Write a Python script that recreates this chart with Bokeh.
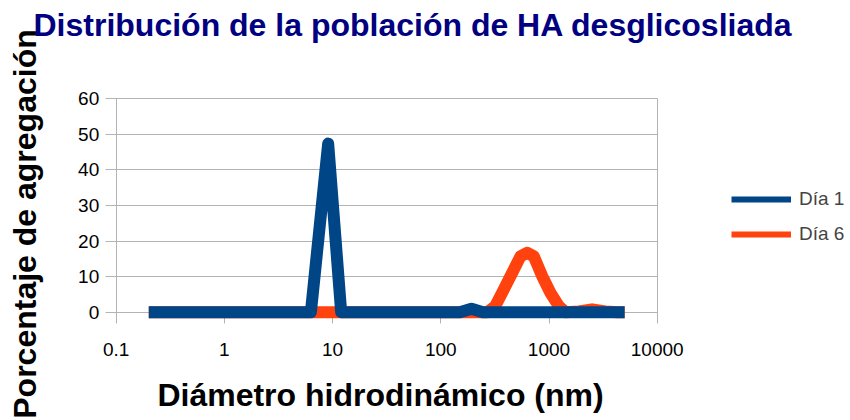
import math
from bokeh.plotting import figure
from bokeh.models import (Range1d, FixedTicker, Legend, LegendItem, Label, Grid)
from bokeh.core.properties import value
from bokeh.embed import file_html
from bokeh.resources import INLINE

# ---- data ----
title_text = "Distribución de la población de HA desglicosliada"
x_title = "Diámetro hidrodinámico (nm)"
y_title = "Porcentaje de agregación"
series_names = ["Día 1", "Día 6"]

dia1_x = [0.2, 6.3, 9.1, 12.0, 150, 192, 245, 5000]
dia1_y = [0, 0, 47.4, 0, 0, 1.0, 0, 0]

dia6_x = [0.2, 270, 318, 381, 456, 545, 629, 724, 867, 1033, 1233, 1420, 1900, 2500, 3300, 4300, 5000]
dia6_y = [0, 0, 1.7, 6.3, 11.0, 15.7, 16.7, 15.7, 10.1, 5.4, 1.7, 0, 0.2, 0.8, 0.2, 0, 0]

x_ticks = [0.1, 1, 10, 100, 1000, 10000]
x_tick_labels = ["0.1", "1", "10", "100", "1000", "10000"]
y_ticks = [0, 10, 20, 30, 40, 50, 60]
y_tick_labels = ["0", "10", "20", "30", "40", "50", "60"]

BLUE = "#004586"
ORANGE = "#ff420e"
GRID = "#b3b3b3"
FONT = "Liberation Sans"

W, H = 850, 420
PX_DECADE = 108.2            # pixels per decade on the x axis
PX_UNIT = 3.5567             # pixels per percentage unit on the y axis
X0_PX, Y60_PX = 115.7, 98.3  # where 0.1 and 60 sit inside the canvas
TICK = 11                    # tick length in px

lx0 = math.log10(x_ticks[0]) - X0_PX / PX_DECADE
x_range = Range1d(10 ** lx0, 10 ** (lx0 + W / PX_DECADE))
ytop = y_ticks[-1] + Y60_PX / PX_UNIT
y_range = Range1d(ytop - H / PX_UNIT, ytop)

p = figure(width=W, height=H, x_axis_type="log", title=None,
           x_range=x_range, y_range=y_range,
           x_axis_location=None, y_axis_location=None,
           output_backend="svg", toolbar_location=None, min_border=0)
p.outline_line_color = None
p.background_fill_color = "white"
p.border_fill_color = "white"
# drop default grids; only the chart's own grid lines are drawn
p.center = [r for r in p.center if not isinstance(r, Grid)]

x_tick_end = x_ticks[0] * 10 ** (-TICK / PX_DECADE)   # left end of y ticks
y_tick_end = y_ticks[0] - TICK / PX_UNIT              # bottom end of x ticks

# horizontal grid lines (with the y ticks) and vertical axis lines / x ticks
p.add_layout(Grid(dimension=1, ticker=FixedTicker(ticks=y_ticks),
                  cross_bounds=(x_tick_end, x_ticks[-1]), grid_line_color=GRID))
p.add_layout(Grid(dimension=0, ticker=FixedTicker(ticks=[x_ticks[0], x_ticks[-1]]),
                  cross_bounds=(y_tick_end, y_ticks[-1]), grid_line_color=GRID))
p.add_layout(Grid(dimension=0, ticker=FixedTicker(ticks=x_ticks[1:-1]),
                  cross_bounds=(y_tick_end, y_ticks[0]), grid_line_color=GRID))

# tick labels
p.text(x=x_ticks, y=[y_ticks[0]] * len(x_ticks), text=x_tick_labels,
       y_offset=37, text_align="center", text_baseline="middle",
       text_font=value(FONT), text_font_size="19px", text_color="black")
p.text(x=[x_ticks[0]] * len(y_ticks), y=y_ticks, text=y_tick_labels,
       x_offset=-17, text_align="right", text_baseline="middle",
       text_font=value(FONT), text_font_size="19px", text_color="black")

# data lines (Día 6 below Día 1)
p.line(dia6_x, dia6_y, line_color=ORANGE, line_width=12, line_join="round")
p.line(dia1_x, dia1_y, line_color=BLUE, line_width=12, line_join="round")

# legend keys: thinner lines (single point, so nothing drawn in the plot)
k1 = p.line([dia1_x[0]], [dia1_y[0]], line_color=BLUE, line_width=6)
k2 = p.line([dia6_x[0]], [dia6_y[0]], line_color=ORANGE, line_width=6)
legend = Legend(items=[LegendItem(label=series_names[0], renderers=[k1]),
                       LegendItem(label=series_names[1], renderers=[k2])],
                location=(731, 175), orientation="vertical", padding=0, margin=0, spacing=13,
                glyph_width=60, glyph_height=22, label_height=22, label_standoff=8,
                label_text_font=FONT, label_text_font_size="19px",
                border_line_color=None, background_fill_alpha=0)
p.add_layout(legend)

p.add_layout(Label(x=33, y=396, x_units="screen", y_units="screen", text=title_text,
                   text_font=FONT, text_font_size="32px", text_font_style="bold",
                   text_color="#000080", text_align="left", text_baseline="middle"))
p.add_layout(Label(x=380, y=26, x_units="screen", y_units="screen", text=x_title,
                   text_font=FONT, text_font_size="32px", text_font_style="bold",
                   text_color="black", text_align="center", text_baseline="middle"))
p.add_layout(Label(x=24, y=196.5, x_units="screen", y_units="screen", text=y_title,
                   angle=math.pi / 2,
                   text_font=FONT, text_font_size="32px", text_font_style="bold",
                   text_color="black", text_align="center", text_baseline="middle"))

open("out.html", "w").write(file_html(p, INLINE))
